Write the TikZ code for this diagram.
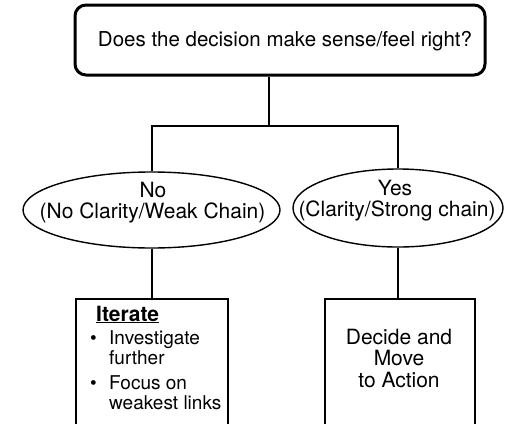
\documentclass[tikz,border=0pt]{standalone}
\usepackage{fontspec}
\setmainfont{TeX Gyre Heros}
\usetikzlibrary{shapes.geometric}
\begin{document}
\begin{tikzpicture}[x=1pt,y=-1pt,
  conn/.style={line width=2pt},
  txt/.style={anchor=base,inner sep=0pt,font=\fontsize{#1}{#1}\selectfont},
  txtl/.style={anchor=base west,inner sep=0pt,font=\fontsize{#1}{#1}\selectfont},
  oval/.style={ellipse,draw,line width=1.4pt,inner sep=0pt},
  boxx/.style={draw,line width=2pt,inner sep=0pt,anchor=north}]
\clip (0,0) rectangle (510,423);
\fill[white] (0,0) rectangle (510,423);
% top question
\node[draw,line width=3pt,rounded corners=11pt,minimum width=410pt,minimum height=70pt,inner sep=0pt] (top) at (280,40) {};
\node[txt=20.5] (topt) at (285,46.7) {Does the decision make sense/feel right?};
% ellipses
\node[oval,minimum width=257pt,minimum height=76pt] (no) at (151.5,210) {};
\node[txt=21] (no1) at (153,197) {No};
\node[txt=21] (no2) at (152.5,218.5) {(No Clarity/Weak Chain)};
\node[oval,minimum width=210pt,minimum height=78pt] (yes) at (398,208) {};
\node[txt=21] (yes1) at (395,195) {Yes};
\node[txt=21] (yes2) at (397,216.7) {(Clarity/Strong chain)};
% boxes
\node[boxx,minimum width=152pt,minimum height=160pt] (iter) at (151.5,298) {};
\node[boxx,minimum width=150pt,minimum height=160pt] (act) at (400,298) {};
% iterate text
\node[txtl=21] (it0) at (96,321) {\bfseries\underline{Iterate}};
\node[txtl=19] (b1) at (90,344) {\textbullet};
\node[txtl=19] (it1) at (109,344) {Investigate};
\node[txtl=19] (it2) at (109,364) {further};
\node[txtl=19] (b2) at (90,389) {\textbullet};
\node[txtl=19] (it3) at (109,389) {Focus on};
\node[txtl=19] (it4) at (109,409) {weakest links};
% action text
\node[txt=21] (a1) at (399,344) {Decide and};
\node[txt=21] (a2) at (399,365.5) {Move};
\node[txt=21] (a3) at (399,387) {to Action};
% connectors
\coordinate (jt) at (269,126);
\draw[conn] ([xshift=-11pt]top.south) -- (jt);
\draw[conn] (no.north) |- (jt) -| (yes.north);
\draw[conn] (no.south) -- (iter.north);
\draw[conn] (yes.south) -- (yes.south |- act.north);
\end{tikzpicture}
\end{document}
